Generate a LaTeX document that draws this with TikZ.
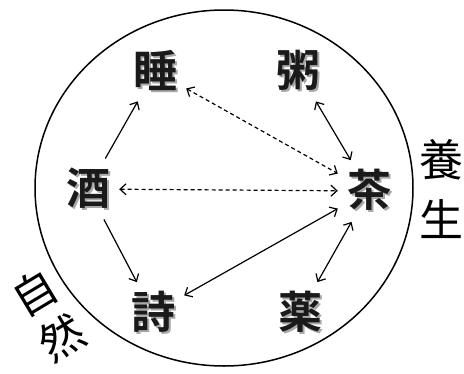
\documentclass[tikz,border=0pt]{standalone}
\usepackage{fontspec}
\newfontfamily\jpfont{Noto Sans CJK JP}
\newfontfamily\jpbold{Noto Sans CJK JP Bold}
\usepackage{tikz}
\usetikzlibrary{arrows.meta}
\usepackage{xcolor}
\definecolor{inkdark}{HTML}{1A1A1A}
\definecolor{inkshade}{HTML}{A8A8A8}
\newcommand{\shadechar}[1]{\makebox[0pt][l]{\hspace{2pt}\raisebox{-2pt}{\textcolor{inkshade}{#1}}}#1}

\begin{document}
\begin{tikzpicture}[x=1pt, y=-1pt,
    word/.style={font=\jpbold\fontsize{44}{44}\selectfont, text=inkdark, inner sep=9pt},
    side/.style={font=\jpfont\fontsize{44}{44}\selectfont, text=black, inner sep=0pt},
    link/.style={line width=1.2pt, {Straight Barb[length=6pt,width=11pt]}-{Straight Barb[length=6pt,width=11pt]}},
    oneway/.style={line width=1.2pt, -{Straight Barb[length=6pt,width=11pt]}},
    dots/.style={dash pattern=on 4pt off 3pt}]
  \useasboundingbox (0,0) rectangle (464,373);
  \draw[line width=1.5pt] (224,188) ellipse [x radius=189pt, y radius=178pt];
  % the six words
  \foreach \nm/\x/\y/\ch in {sui/155/71/睡, zhou/298/71/粥, jiu/88/189/酒,
                             cha/369/191/茶, shi/153/313/詩, yao/300/313/薬}
    \node[word] (\nm) at (\x,\y) {\shadechar{\ch}};
  \draw[oneway] (jiu) -- (sui);
  \draw[oneway] (jiu) -- (shi);
  \draw[link, dots] (jiu) -- (cha);
  \draw[link, dots] (sui) -- (cha);
  \draw[link] (zhou) -- (cha);
  \draw[link] (cha) -- (shi);
  \draw[link] (cha) -- (yao);
  % outer labels
  \node[side] (yang) at (441,160) {養};
  \node[side] (sheng) at (441,219) {生};
  \node[side, rotate=31] (zi) at (35,293) {自};
  \node[side, rotate=31] (ran) at (62,338) {然};
\end{tikzpicture}
\end{document}
